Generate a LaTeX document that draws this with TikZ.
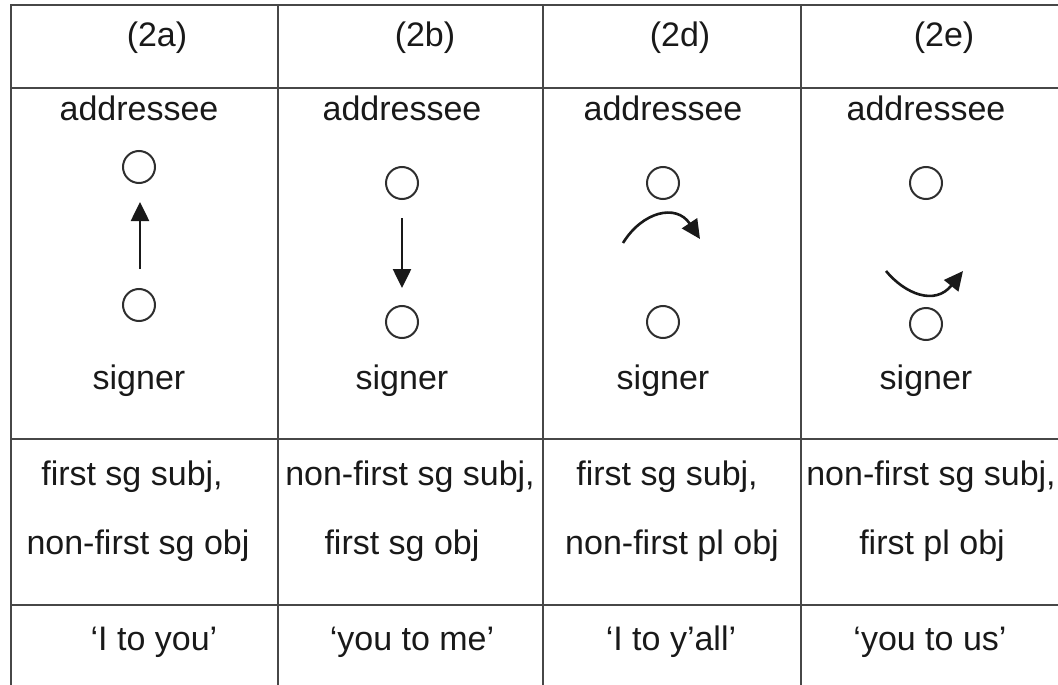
\documentclass[tikz,border=0pt]{standalone}
\usepackage{fontspec}
\setmainfont{Liberation Sans}
\usetikzlibrary{arrows.meta}
\begin{document}
\begin{tikzpicture}[x=1pt,y=-1pt,
  grid/.style={line width=2.2pt,draw=black!72},
  lbl/.style={anchor=base,inner sep=0pt,font=\fontsize{34}{40}\selectfont,text=black!90},
  ring/.style={circle,draw=black!82,line width=2pt,minimum size=32pt,inner sep=0pt},
  arr/.style={line width=2.6pt,draw=black!90,-{Triangle[length=19pt,width=18pt]}}]
\useasboundingbox (0,0) rectangle (1058,685);
% grid
\draw[grid] (11,685) -- (11,5) -- (1058,5);
\foreach \xx in {278,543,801} \draw[grid] (\xx,5) -- (\xx,685);
\foreach \yy in {88,439,605} \draw[grid] (11,\yy) -- (1058,\yy);
% headers
\node[lbl] (h1) at (157,47) {(2a)};
\node[lbl] (h2) at (425,47) {(2b)};
\node[lbl] (h3) at (680,47) {(2d)};
\node[lbl] (h4) at (944,47) {(2e)};
% addressee / signer
\node[lbl] (a1) at (139,121) {addressee};
\node[lbl] (a2) at (402,121) {addressee};
\node[lbl] (a3) at (663,121) {addressee};
\node[lbl] (a4) at (926,121) {addressee};
\node[lbl] (s1) at (139,389) {signer};
\node[lbl] (s2) at (402,389) {signer};
\node[lbl] (s3) at (663,389) {signer};
\node[lbl] (s4) at (926,389) {signer};
% circles
\node[ring] (t1) at (139,167) {};
\node[ring] (b1) at (139,305) {};
\node[ring] (t2) at (402,183) {};
\node[ring] (b2) at (402,322) {};
\node[ring] (t3) at (663,183) {};
\node[ring] (b3) at (663,322) {};
\node[ring] (t4) at (926,183) {};
\node[ring] (b4) at (926,324) {};
% arrows
\coordinate (p1s) at (140,269); \coordinate (p1e) at (140,202);
\draw[arr] (p1s) -- (p1e);
\coordinate (p2s) at (402,218); \coordinate (p2e) at (402,288);
\draw[arr] (p2s) -- (p2e);
\coordinate (p3s) at (623,243); \coordinate (p3e) at (700,239);
\draw[arr] (p3s) .. controls (642,212) and (676,203) .. (p3e);
\coordinate (p4s) at (886,271); \coordinate (p4e) at (963,271);
\draw[arr] (p4s) .. controls (905,294) and (935,306) .. (p4e);
% row 2
\node[lbl] (r1a) at (132,485) {first sg subj,};
\node[lbl] (r1b) at (138,554) {non-first sg obj};
\node[lbl] (r2a) at (410,485) {non-first sg subj,};
\node[lbl] (r2b) at (402,554) {first sg obj};
\node[lbl] (r3a) at (667,485) {first sg subj,};
\node[lbl] (r3b) at (672,554) {non-first pl obj};
\node[lbl] (r4a) at (931,485) {non-first sg subj,};
\node[lbl] (r4b) at (932,554) {first pl obj};
% row 3
\node[lbl] (g1) at (154,650) {‘I to you’};
\node[lbl] (g2) at (412,650) {‘you to me’};
\node[lbl] (g3) at (671,650) {‘I to y’all’};
\node[lbl] (g4) at (930,650) {‘you to us’};
\end{tikzpicture}
\end{document}
